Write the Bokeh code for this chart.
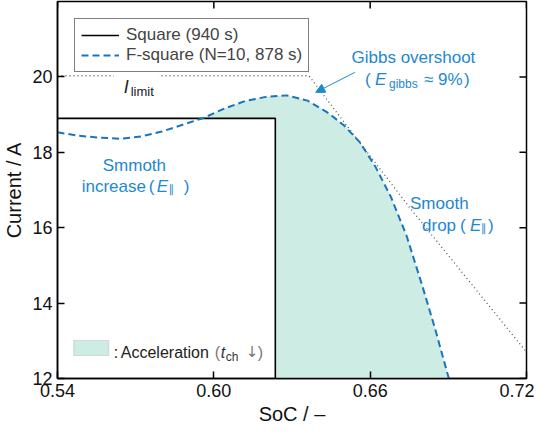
import numpy as np
from bokeh.plotting import figure
from bokeh.models import (Label, Legend, LegendItem, FixedTicker,
                          BoxAnnotation, Arrow, NormalHead, Range1d)
from bokeh.embed import file_html
from bokeh.resources import INLINE

# ---------------- data ----------------
x_ticks = [0.54, 0.60, 0.66, 0.72]
x_tick_labels = ["0.54", "0.60", "0.66", "0.72"]
y_ticks = [12, 14, 16, 18, 20]

square_soc = [0.540, 0.6236, 0.6236]
square_cur = [18.90, 18.90, 12.00]

limit_soc = [0.540, 0.6365, 0.650, 0.6753, 0.700, 0.720]
limit_cur = [20.03, 20.03, 18.80, 16.52, 14.41, 12.70]

fsq_soc = [0.540, 0.548, 0.556, 0.564, 0.572, 0.580, 0.588, 0.596, 0.604, 0.612,
           0.620, 0.628, 0.636, 0.644, 0.650, 0.656, 0.662, 0.668, 0.674, 0.680,
           0.685, 0.6902]
fsq_cur = [18.53, 18.44, 18.39, 18.36, 18.42, 18.55, 18.73, 18.91, 19.16, 19.36,
           19.47, 19.51, 19.37, 19.04, 18.71, 18.27, 17.62, 16.81, 15.78, 14.46,
           13.30, 12.00]

FONT = "Liberation Sans"
BLUE = "#1e88d0"
LINE_BLUE = "#1a74bd"
MINT = "#cdece3"

X0, X1, Y0, Y1 = 0.54, 0.72, 12, 22
p = figure(width=534, height=428, x_range=Range1d(X0, X1), y_range=Range1d(Y0, Y1),
           output_backend="svg", toolbar_location=None,
           min_border_left=50, min_border_right=8, min_border_top=1, min_border_bottom=50)
p.grid.visible = False
p.outline_line_color = "black"
p.outline_line_width = 1.5
p.background_fill_color = "white"

xax = p.below[0]
yax = p.left[0]

# fill region (acceleration): between F-square and square where F-square is higher
fs_soc = np.array(fsq_soc)
fs_cur = np.array(fsq_cur)
lvl = square_cur[0]
sq_end = square_soc[1]
bottom = square_cur[2]
rise = (fs_soc <= sq_end) & (fs_soc >= 0.572)
cross = float(np.interp(lvl, fs_cur[rise], fs_soc[rise]))
f_end = float(np.interp(sq_end, fs_soc, fs_cur))
mid = (fs_soc > cross) & (fs_soc < sq_end)
after = fs_soc > sq_end
px = [cross] + list(fs_soc[mid]) + [sq_end] + list(fs_soc[after]) + [sq_end, sq_end]
py = [lvl] + list(fs_cur[mid]) + [f_end] + list(fs_cur[after]) + [bottom, lvl]
p.patch(px, py, fill_color=MINT, line_color=None)

p.line(limit_soc, limit_cur, line_color="#555555", line_width=1.3, line_dash="1 3")
r_sq = p.line(square_soc, square_cur, line_color="black", line_width=1.6)
r_fs = p.line(fsq_soc, fsq_cur, line_color=LINE_BLUE, line_width=2, line_dash="7 4")

# inward ticks on the top and right frame edges (mirroring the bottom / left axes)
tick_dy = (Y1 - Y0) * 7.0 / 375.0
tick_dx = (X1 - X0) * 7.0 / 466.0
p.segment(x0=x_ticks, y0=[Y1] * len(x_ticks), x1=x_ticks, y1=[Y1 - tick_dy] * len(x_ticks),
          line_color="black", line_width=1.5)
p.segment(x0=[X1] * len(y_ticks), y0=y_ticks, x1=[X1 - tick_dx] * len(y_ticks), y1=y_ticks,
          line_color="black", line_width=1.5)

# axes
xax.ticker = FixedTicker(ticks=x_ticks)
yax.ticker = FixedTicker(ticks=y_ticks)
for ax in [xax, yax]:
    ax.major_tick_in = 7
    ax.major_tick_out = 0
    ax.minor_tick_line_color = None
    ax.major_tick_line_width = 1.5
    ax.axis_line_width = 1.5
    ax.major_label_text_font = FONT
    ax.major_label_text_font_size = "18px"
    ax.major_label_text_color = "#111111"
    ax.axis_label_text_font = FONT
    ax.axis_label_text_font_size = "20px"
    ax.axis_label_text_font_style = "normal"
    ax.axis_label_text_color = "#111111"

xax.major_label_overrides = dict(zip(x_ticks, x_tick_labels))
xax.major_label_standoff = 5
xax.axis_label = "SoC / –"
xax.axis_label_standoff = 3
yax.major_label_standoff = 5
yax.axis_label = "Current / A"
yax.axis_label_standoff = 4

legend = Legend(items=[LegendItem(label="Square (940 s)", renderers=[r_sq]),
                       LegendItem(label="F-square (N=10, 878 s)", renderers=[r_fs])],
                location="top_left", margin=17, padding=6, spacing=0,
                glyph_width=38, label_standoff=7,
                label_text_font=FONT, label_text_font_size="17px",
                border_line_color="black", border_line_width=1,
                background_fill_alpha=1.0)
p.add_layout(legend)


def lab(x, y, text, dx=0, size="17px", color=BLUE, style="normal", align="left", font=FONT):
    p.add_layout(Label(x=x, y=y, x_offset=dx, text=text, text_font=font, text_font_size=size,
                       text_color=color, text_font_style=style, text_align=align,
                       text_baseline="alphabetic"))


# I_limit label with white gap in the dotted line
p.add_layout(BoxAnnotation(left=0.5616, right=0.5789, bottom=19.86, top=20.2,
                           fill_color="white", fill_alpha=1.0, line_color=None))
lab(0.5654, 19.72, "I", size="18px", color="#222222", style="italic")
lab(0.5654, 19.62, "limit", dx=7, size="13px", color="#222222")

# Gibbs overshoot
lab(0.6766, 20.51, "Gibbs overshoot", align="center")
gx, gy = 0.6580, 19.93
lab(gx, gy, "(")
lab(gx, gy, "E", dx=10, style="italic")
lab(gx, gy - 0.11, "gibbs", dx=24, size="12px")
lab(gx, gy, "≈ 9%", dx=59)
lab(gx, gy, ")", dx=99)
p.add_layout(Arrow(end=NormalHead(size=9, fill_color=BLUE, line_color=BLUE),
                   x_start=0.6541, y_start=20.12, x_end=0.6391, y_end=19.59,
                   line_color=BLUE, line_width=1))

# Smooth increase
lab(0.5695, 17.65, "Smmoth", align="center")
ix, iy = 0.5493, 17.10
lab(ix, iy, "increase")
lab(ix, iy, "(", dx=67)
lab(ix, iy, "E", dx=75, style="italic")
lab(ix, iy - 0.09, "∥", dx=87, size="11px", font="DejaVu Sans")
lab(ix, iy, ")", dx=102)

# Smooth drop
lab(0.6753, 16.64, "Smooth")
sx, sy = 0.6799, 16.06
lab(sx, sy, "drop")
lab(sx, sy, "(", dx=38)
lab(sx, sy, "E", dx=48, style="italic")
lab(sx, sy - 0.09, "∥", dx=59, size="11px", font="DejaVu Sans")
lab(sx, sy, ")", dx=66)

# Acceleration legend
p.add_layout(BoxAnnotation(left=0.5462, right=0.5597, bottom=12.61, top=13.01,
                           fill_color=MINT, fill_alpha=1.0, line_color="#9a9a9a",
                           line_width=1))
ax_, ay_ = 0.5616, 12.69
lab(ax_, ay_, ":", size="16px", color="#222222")
lab(ax_, ay_, "Acceleration", dx=7, size="16px", color="#222222")
lab(ax_, ay_, "(", dx=101, size="16px", color="#777777")
lab(ax_, ay_, "t", dx=107, size="16px", color="#333333", style="italic")
lab(ax_, ay_ - 0.11, "ch", dx=112, size="12px", color="#333333")
lab(ax_, ay_, "↓", dx=132, size="15px", color="#777777", font="DejaVu Sans")
lab(ax_, ay_, ")", dx=144, size="16px", color="#777777")

open("out.html", "w").write(file_html(p, INLINE))
